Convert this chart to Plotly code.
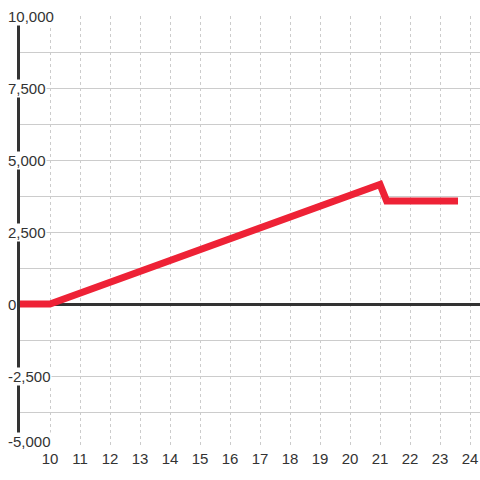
import plotly.graph_objects as go

x_vals = [9, 10, 21, 21.22, 23.6]
y_vals = [0, 0, 4150, 3580, 3580]

x_ticks = [10, 11, 12, 13, 14, 15, 16, 17, 18, 19, 20, 21, 22, 23, 24]
y_ticks = [10000, 7500, 5000, 2500, 0, -2500, -5000]
y_tick_labels = ["10,000", "7,500", "5,000", "2,500", "0", "-2,500", "-5,000"]

FONT = "Liberation Sans, Arial, sans-serif"
TXT = "#333333"

fig = go.Figure()
fig.add_trace(go.Scatter(
    x=x_vals, y=y_vals, mode="lines",
    line=dict(color="#ee2236", width=7),
    hoverinfo="skip", showlegend=False,
))

annotations = []
for i, (v, t) in enumerate(zip(y_ticks, y_tick_labels)):
    last = i == len(y_ticks) - 1
    annotations.append(dict(
        x=-0.0283, xref="paper", y=v, yref="y",
        text=t, showarrow=False, xanchor="left",
        yanchor="bottom" if last else "middle",
        yshift=-3 if last else 0,
        bgcolor="white", borderpad=0,
        font=dict(family=FONT, size=15, color=TXT),
    ))

fig.update_layout(
    width=480, height=480,
    margin=dict(l=20, r=0, t=16, b=32),
    paper_bgcolor="white", plot_bgcolor="white",
    font=dict(family=FONT, size=15, color=TXT),
    annotations=annotations,
    xaxis=dict(
        range=[9, 24.333], tickvals=x_ticks, ticktext=[str(v) for v in x_ticks],
        showgrid=True, gridcolor="#cccccc", gridwidth=1, griddash="3px,3px",
        zeroline=False, showline=False, ticks="",
        tickfont=dict(family=FONT, size=15, color=TXT),
    ),
    yaxis=dict(
        range=[-5000, 10000], tickmode="linear", tick0=-5000, dtick=1250,
        showticklabels=False, showgrid=True, gridcolor="#cccccc", gridwidth=1,
        zeroline=True, zerolinecolor="#333333", zerolinewidth=2.5,
        showline=True, linecolor="#333333", linewidth=3, ticks="",
    ),
)

fig.write_html(
    "out.html",
    config={"displayModeBar": False},
    post_script="document.body.style.margin='0';document.body.style.overflow='hidden';",
)
